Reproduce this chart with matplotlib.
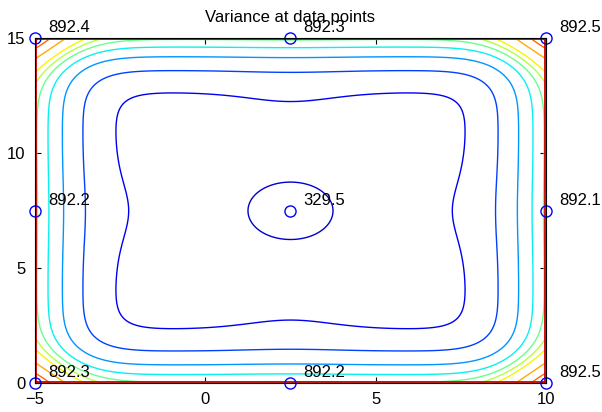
import numpy as np
import matplotlib
matplotlib.use("Agg")
import matplotlib.pyplot as plt
from matplotlib.transforms import ScaledTranslation

plt.rcParams['font.family'] = ['Liberation Sans', 'DejaVu Sans']

# === DATA ===
pt_x = [-5, 2.5, 10, -5, 2.5, 10, -5, 2.5, 10]
pt_y = [0, 0, 0, 7.5, 7.5, 7.5, 15, 15, 15]
pt_var = [892.3, 892.2, 892.5, 892.2, 329.5, 892.1, 892.4, 892.3, 892.5]
x_ticks = [-5, 0, 5, 10]
y_ticks = [0, 5, 10, 15]
# contour levels of the (relative) variance surface, inner ellipse -> corner arcs
levels = [-0.17, 0.0614, 0.280, 0.556, 0.793, 0.975, 1.114, 1.245, 1.503, 1.753, 1.938]
level_pos = [0.07, 0.10, 0.19, 0.27, 0.36, 0.48, 0.57, 0.65, 0.73, 0.80, 0.87]

# === SURFACE ===
x0, x1 = min(pt_x), max(pt_x)
y0, y1 = min(pt_y), max(pt_y)
xc = pt_x[int(np.argmin(pt_var))]
yc = pt_y[int(np.argmin(pt_var))]

def edge_term(d):
    return np.exp(-d / 2.0 - (d / 1.85) ** 2)

def bump(d):
    return np.exp(-((d - 2.5) / 2.5) ** 2)

X, Y = np.meshgrid(np.linspace(x0, x1, 601), np.linspace(y0, y1, 601))
dl, dr, db, dt = X - x0, x1 - X, Y - y0, y1 - Y
P = edge_term(dl) + edge_term(dr) + edge_term(db) + edge_term(dt)
Q = 0.034 * (np.exp(-((Y - yc) / 2.0) ** 2) * (bump(dl) + bump(dr))
             + np.exp(-((X - xc) / 2.0) ** 2) * (bump(db) + bump(dt)))
dip = 0.38 * np.exp(-((X - xc) ** 2 + (Y - yc) ** 2) / 2.0)
Z = P + Q - dip

# === PLOT ===
jet = plt.get_cmap('jet')
fig = plt.figure(figsize=(6.02, 4.12), dpi=100)
ax = fig.add_axes([0.0581, 0.0696, 0.8489, 0.8375])

ax.contour(X, Y, Z, levels=levels, colors=[jet(p) for p in level_pos], linewidths=1.0)

# red outline just inside the axes box
edges = [([x0, x1], [y0, y0], 0, 1), ([x0, x1], [y1, y1], 0, -1),
         ([x0, x0], [y0, y1], 1, 0), ([x1, x1], [y0, y1], -1, 0)]
for ex, ey, ox, oy in edges:
    tr = ax.transData + ScaledTranslation(ox * 1.2 / 100, oy * 1.2 / 100, fig.dpi_scale_trans)
    ax.plot(ex, ey, color=jet(0.93), lw=1.3, transform=tr, clip_on=False, zorder=2,
            solid_capstyle='butt')

ax.plot(pt_x, pt_y, 'o', mfc='none', mec='blue', ms=8, mew=1.0, clip_on=False, zorder=5)
for xi, yi, v in zip(pt_x, pt_y, pt_var):
    ax.annotate(f'{v:.1f}', (xi, yi), xytext=(9.5, 4.5), textcoords='offset points',
                fontsize=12, ha='left', va='baseline', annotation_clip=False)

ax.set_xlim(x0, x1)
ax.set_ylim(y0, y1)
ax.set_xticks(x_ticks)
ax.set_yticks(y_ticks)
ax.tick_params(direction='in', length=4, top=True, right=True, labelsize=12)
ax.tick_params(axis='x', pad=6.5)
ax.tick_params(axis='y', pad=7)
for s in ax.spines.values():
    s.set_linewidth(0.8)
    s.set_zorder(6)
ax.set_title('Variance at data points', fontsize=12, pad=12)

fig.savefig('out.png', dpi=100)
